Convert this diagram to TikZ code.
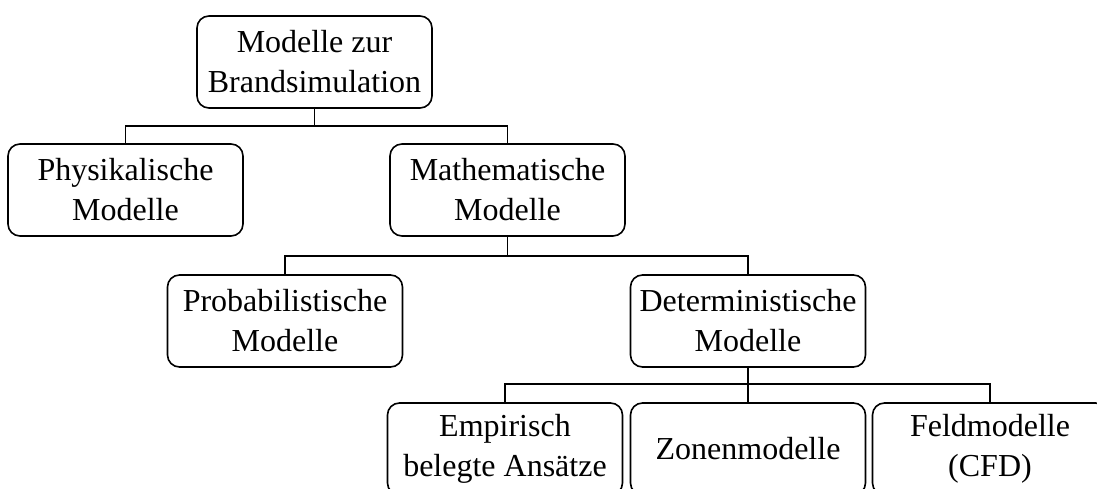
\documentclass[tikz,border=0pt]{standalone}
\usepackage{fontspec}
\setmainfont{Liberation Serif}
\begin{document}
\begin{tikzpicture}[x=1pt,y=1pt,
  mbox/.style={draw, line width=1.6pt, rounded corners=12pt, minimum width=235pt, minimum height=92pt, inner sep=0pt, align=center, font=\fontsize{32}{40}\selectfont},
  conn/.style={draw, line width=1.6pt}]
\useasboundingbox (0,0) rectangle (1097,-489);
\node[mbox] (top) at (314.5,-62) {Modelle zur\\Brandsimulation};
\node[mbox] (phys) at (125.5,-190) {Physikalische\\Modelle};
\node[mbox] (math) at (507.5,-190) {Mathematische\\Modelle};
\node[mbox] (prob) at (285,-321) {Probabilistische\\Modelle};
\node[mbox] (det) at (748,-321) {Deterministische\\Modelle};
\node[mbox] (emp) at (505,-449) {Empirisch\\belegte Ansätze};
\node[mbox] (zon) at (748,-449) {Zonenmodelle};
\node[mbox] (feld) at (990,-449) {Feldmodelle\\(CFD)};
\coordinate (b1) at (314.5,-126);
\coordinate (b2) at (507.5,-256);
\coordinate (b3) at (748,-384);
\draw[conn] (top.south) -- (b1);
\draw[conn] (phys.north) |- (b1) -| (math.north);
\draw[conn] (math.south) -- (b2);
\draw[conn] (prob.north) |- (b2) -| (det.north);
\draw[conn] (det.south) -- (b3);
\draw[conn] (emp.north) |- (b3) -| (feld.north);
\draw[conn] (b3) -- (zon.north);
\end{tikzpicture}
\end{document}
